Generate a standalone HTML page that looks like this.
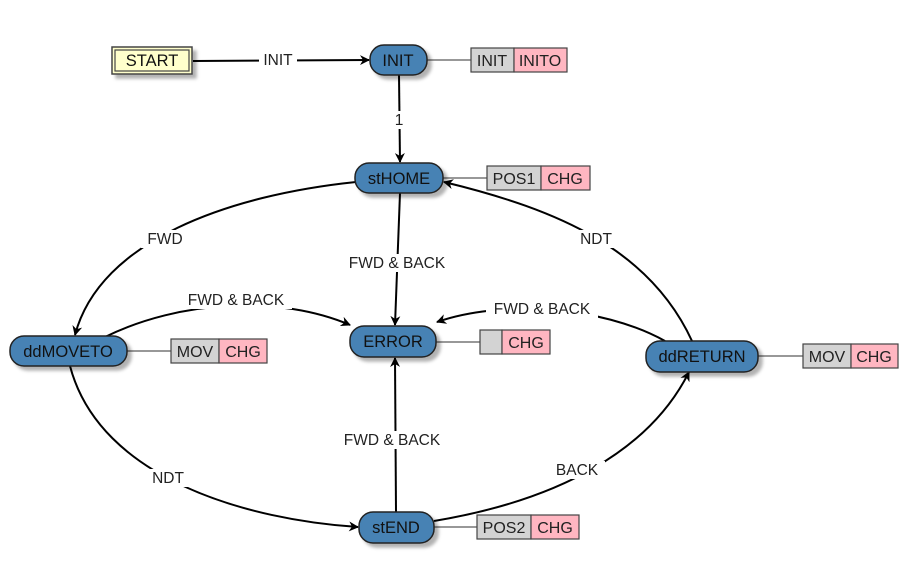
<!DOCTYPE html>
<html><head><meta charset="utf-8"><style>
html,body{margin:0;padding:0;background:#fff;}
svg{display:block;font-family:"Liberation Sans",sans-serif;}
</style></head><body>
<svg width="908" height="584" viewBox="0 0 908 584" xmlns="http://www.w3.org/2000/svg">
<defs>
<marker id="a" viewBox="0 0 10 10" refX="9" refY="5" markerWidth="10" markerHeight="10" markerUnits="userSpaceOnUse" orient="auto">
<path d="M0,0 L10,5 L0,10 L3,5 z" fill="#000"/>
</marker>
<filter id="sh" x="-20%" y="-20%" width="150%" height="160%"><feDropShadow dx="4" dy="4" stdDeviation="1.5" flood-color="#000" flood-opacity="0.3"/></filter>
</defs>
<g fill="none" stroke="#000" stroke-width="2">
<path d="M193,61 L369,60" marker-end="url(#a)"/>
<path d="M399,75 L400,162" marker-end="url(#a)"/>
<path d="M356,182 C230,195 100,240 75,335" marker-end="url(#a)"/>
<path d="M105,337 C180,300 280,295 350,325" marker-end="url(#a)"/>
<path d="M400,193 L395,325" marker-end="url(#a)"/>
<path d="M665,341 C600,305 500,300 437,322" marker-end="url(#a)"/>
<path d="M692,341 C650,250 560,210 444,182" marker-end="url(#a)"/>
<path d="M70,366 C100,480 250,520 358,527" marker-end="url(#a)"/>
<path d="M396,512 L395,358" marker-end="url(#a)"/>
<path d="M434,521 C560,500 650,450 689,372" marker-end="url(#a)"/>
</g>
<g stroke="#777" stroke-width="1.5">
<line x1="427" y1="60" x2="471" y2="60"/>
<line x1="443" y1="178" x2="487" y2="178"/>
<line x1="436" y1="342" x2="480" y2="342"/>
<line x1="127" y1="351" x2="171" y2="351"/>
<line x1="758" y1="356" x2="803" y2="356"/>
<line x1="434" y1="527" x2="477" y2="527"/>
</g>
<g font-size="15.5" text-anchor="middle" fill="#222">
<g fill="#fff"><rect x="259" y="51" width="38" height="18"/><rect x="393" y="111" width="12" height="18"/><rect x="141" y="230" width="48" height="18"/><rect x="180" y="291" width="112" height="18"/><rect x="341" y="254" width="112" height="18"/><rect x="486" y="300" width="112" height="18"/><rect x="575" y="230" width="42" height="18"/><rect x="146" y="469" width="44" height="18"/><rect x="336" y="431" width="112" height="18"/><rect x="549" y="461" width="56" height="18"/></g>
<text x="278" y="65">INIT</text>
<text x="399" y="125">1</text>
<text x="165" y="244">FWD</text>
<text x="236" y="305">FWD &amp; BACK</text>
<text x="397" y="268">FWD &amp; BACK</text>
<text x="542" y="314">FWD &amp; BACK</text>
<text x="596" y="244">NDT</text>
<text x="168" y="483">NDT</text>
<text x="392" y="445">FWD &amp; BACK</text>
<text x="577" y="475">BACK</text>
</g>
<g filter="url(#sh)">
<rect x="112" y="47" width="80" height="27" fill="#ffffcc" stroke="#444" stroke-width="1.5"/>
</g>
<rect x="115" y="50" width="74" height="21" fill="none" stroke="#444" stroke-width="1.2"/>
<g filter="url(#sh)" fill="#4682b4" stroke="#222" stroke-width="1.5">
<rect x="370" y="45" width="57" height="30" rx="14"/>
<rect x="355" y="163" width="88" height="30" rx="14"/>
<rect x="350" y="326" width="86" height="31" rx="14"/>
<rect x="10" y="336" width="117" height="30" rx="14"/>
<rect x="646" y="341" width="112" height="31" rx="14"/>
<rect x="359" y="512" width="75" height="31" rx="14"/>
</g>
<g font-size="16.5" text-anchor="middle" fill="#111">
<text x="152" y="66">START</text>
<text x="398" y="66">INIT</text>
<text x="399" y="184">stHOME</text>
<text x="393" y="347">ERROR</text>
<text x="68" y="357">ddMOVETO</text>
<text x="702" y="362">ddRETURN</text>
<text x="396" y="533">stEND</text>
</g>
<g stroke="#444" stroke-width="1.2">
<rect x="471" y="48" width="43" height="24" fill="#d3d3d3"/><rect x="514" y="48" width="53" height="24" fill="#ffb6c1"/>
<rect x="487" y="166" width="54" height="24" fill="#d3d3d3"/><rect x="541" y="166" width="49" height="24" fill="#ffb6c1"/>
<rect x="480" y="330" width="22" height="24" fill="#d3d3d3"/><rect x="502" y="330" width="48" height="24" fill="#ffb6c1"/>
<rect x="171" y="339" width="48" height="24" fill="#d3d3d3"/><rect x="219" y="339" width="48" height="24" fill="#ffb6c1"/>
<rect x="803" y="344" width="48" height="24" fill="#d3d3d3"/><rect x="851" y="344" width="47" height="24" fill="#ffb6c1"/>
<rect x="477" y="515" width="54" height="24" fill="#d3d3d3"/><rect x="531" y="515" width="48" height="24" fill="#ffb6c1"/>
</g>
<g font-size="16" text-anchor="middle" fill="#222">
<text x="492" y="66">INIT</text><text x="540" y="66">INITO</text>
<text x="514" y="184">POS1</text><text x="565" y="184">CHG</text>
<text x="526" y="348">CHG</text>
<text x="195" y="357">MOV</text><text x="243" y="357">CHG</text>
<text x="827" y="362">MOV</text><text x="874" y="362">CHG</text>
<text x="504" y="533">POS2</text><text x="555" y="533">CHG</text>
</g>
</svg>
</body></html>
